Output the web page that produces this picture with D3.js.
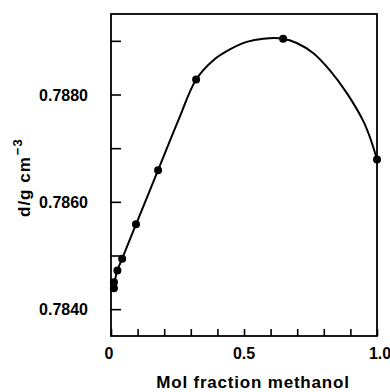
<!DOCTYPE html>
<html>
<head>
<meta charset="utf-8">
<script src="https://cdn.jsdelivr.net/npm/d3@7"></script>
<style>
  body { margin: 0; background: #fff; }
  text { font-family: "Liberation Sans", Arial, sans-serif; font-weight: bold; fill: #000; }
</style>
</head>
<body>
<svg id="chart" width="390" height="392"></svg>
<script>
// measured points (mol fraction methanol, density g/cm3)
const molFrac = [0.011, 0.011, 0.024, 0.042, 0.094, 0.177, 0.320, 0.647, 1.0];
const density = [0.78439, 0.78450, 0.78472, 0.78494, 0.78558, 0.78659, 0.78828, 0.78904, 0.78679];

// smooth curve drawn through the points
const curveX = [0.011, 0.024, 0.042, 0.094, 0.177, 0.255, 0.320, 0.385, 0.447, 0.510, 0.573, 0.647, 0.698, 0.761, 0.823, 0.886, 0.949, 0.975, 1.0];
const curveD = [0.78445, 0.78472, 0.78494, 0.78558, 0.78659, 0.78754, 0.78828, 0.78864, 0.78884, 0.78898, 0.78904, 0.78904, 0.78896, 0.78877, 0.78845, 0.78803, 0.78750, 0.78718, 0.78679];

const xTicks = [0, 0.1, 0.2, 0.3, 0.4, 0.5, 0.6, 0.7, 0.8, 0.9, 1.0];
const xLabels = [0, 0.5, 1.0];
const yTicks = [0.7840, 0.7850, 0.7860, 0.7870, 0.7880, 0.7890];
const yLabels = [0.7840, 0.7860, 0.7880];

const margin = { left: 111, right: 13, top: 14, bottom: 56 };
const width = 390, height = 392;
const svg = d3.select("#chart");

const x = d3.scaleLinear().domain([0, 1]).range([margin.left, width - margin.right]);
const y = d3.scaleLinear().domain([0.7835, 0.7895]).range([height - margin.bottom, margin.top]);

// frame
svg.append("rect")
  .attr("x", x(0)).attr("y", y(0.7895))
  .attr("width", x(1) - x(0)).attr("height", y(0.7835) - y(0.7895))
  .attr("fill", "none").attr("stroke", "#000").attr("stroke-width", 1.8);

// inward ticks
svg.append("g")
  .attr("transform", `translate(0,${y(0.7835)})`)
  .call(d3.axisTop(x).tickValues(xTicks).tickSize(7).tickFormat(""))
  .call((g) => g.select(".domain").remove())
  .selectAll("line").attr("stroke-width", 1.6);

svg.append("g")
  .attr("transform", `translate(${x(0)},0)`)
  .call(d3.axisRight(y).tickValues(yTicks).tickSize(10).tickFormat(""))
  .call((g) => g.select(".domain").remove())
  .selectAll("line").attr("stroke-width", 1.6);

// tick labels
svg.selectAll(".xlab")
  .data(xLabels)
  .join("text")
  .attr("class", "xlab")
  .attr("x", (d) => x(d) - (d === 0 ? 2 : 0) + (d === 1 ? 3 : 0))
  .attr("y", 359)
  .attr("text-anchor", "middle")
  .style("font-size", "16px")
  .text((d) => (d === 0 ? "0" : d3.format(".1f")(d)));

svg.selectAll(".ylab")
  .data(yLabels)
  .join("text")
  .attr("class", "ylab")
  .attr("x", 88)
  .attr("y", (d) => y(d) + 6)
  .attr("text-anchor", "end")
  .style("font-size", "16px")
  .text((d) => d3.format(".4f")(d));

// axis titles
svg.append("text")
  .attr("x", 253).attr("y", 388)
  .attr("text-anchor", "middle")
  .style("font-size", "17px")
  .style("letter-spacing", "0.8px")
  .text("Mol fraction methanol");

const yt = svg.append("text")
  .attr("transform", "translate(30,217) rotate(-90)")
  .style("font-size", "17px")
  .style("letter-spacing", "1px");
yt.append("tspan").text("d/g cm");
yt.append("tspan").attr("dy", -8).attr("dx", 1).style("font-size", "13px").text("\u22123");

// curve
const line = d3.line()
  .x((d, i) => x(curveX[i]))
  .y((d) => y(d))
  .curve(d3.curveCatmullRom.alpha(0.5));

svg.append("path")
  .attr("d", line(curveD))
  .attr("fill", "none")
  .attr("stroke", "#000")
  .attr("stroke-width", 2);

// points
svg.selectAll(".pt")
  .data(density)
  .join("circle")
  .attr("class", "pt")
  .attr("cx", (d, i) => x(molFrac[i]))
  .attr("cy", (d) => y(d))
  .attr("r", 4)
  .attr("fill", "#000");
</script>
</body>
</html>
